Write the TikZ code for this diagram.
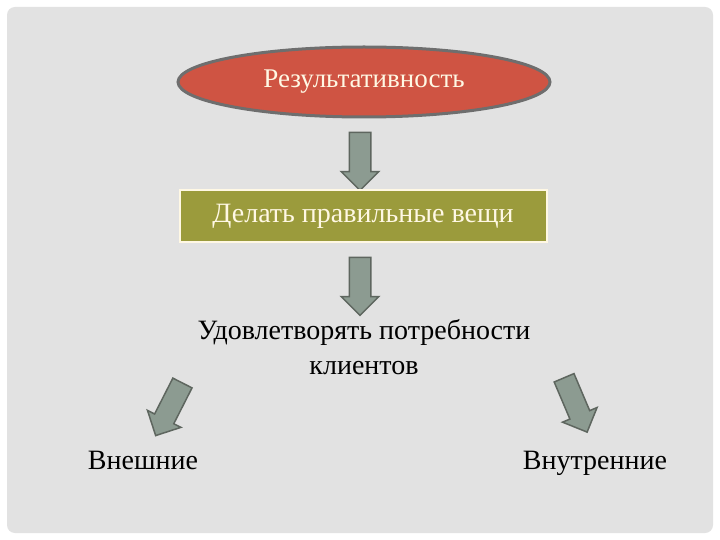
\documentclass[tikz,border=0pt]{standalone}
\usepackage{fontspec}
\setmainfont{Liberation Serif}
\usetikzlibrary{shapes.geometric,shapes.arrows}
\definecolor{bg}{HTML}{E2E2E2}
\definecolor{ellfill}{HTML}{CF5443}
\definecolor{ellline}{HTML}{6E6E6E}
\definecolor{olive}{HTML}{9B9B3C}
\definecolor{cream}{HTML}{FFF8E4}
\definecolor{arrfill}{HTML}{8C9B91}
\definecolor{arrline}{HTML}{5E665F}
\tikzset{
  blockarrow/.style={single arrow, draw=arrline, fill=arrfill, line width=1.5pt,
    inner sep=10pt, single arrow head extend=8pt, minimum height=58pt, minimum width=36pt},
  lbl/.style={font=\fontsize{28}{35}\selectfont, text=black, align=center},
  base/.style={text height=19pt, text depth=6pt, inner ysep=0pt}
}
\begin{document}
\begin{tikzpicture}[x=1pt,y=-1pt]
\useasboundingbox (0,0) rectangle (720,540);
\fill[white] (0,0) rectangle (720,540);
\fill[bg, rounded corners=8pt] (7,7) rectangle (713,533);
\node[ellipse, fill=ellfill, draw=ellline, line width=3pt, minimum width=372pt, minimum height=70pt,
  text=cream, font=\fontsize{27}{30}\selectfont] (res) at (364,82) {Результативность};
\node[blockarrow, rotate=-90] (a1) at (360,156) {};
\node[rectangle, fill=olive, draw=cream, line width=2pt, minimum width=367pt, minimum height=52pt,
  text=cream, font=\fontsize{28}{30}\selectfont] (del) at (363,216) {Делать правильные вещи};
\node[blockarrow, rotate=-90] (a2) at (360,281) {};
\node[lbl] (udo) at (364,347) {Удовлетворять потребности\\клиентов};
\node[blockarrow, rotate=-117, minimum height=59pt] (a3) at (171.5,404.5) {};
\node[blockarrow, rotate=-67, minimum height=59pt] (a4) at (573.5,400) {};
\node[lbl, base] (vne) at (143,463) {Внешние};
\node[lbl, base] (vnu) at (595,463) {Внутренние};
\end{tikzpicture}
\end{document}
